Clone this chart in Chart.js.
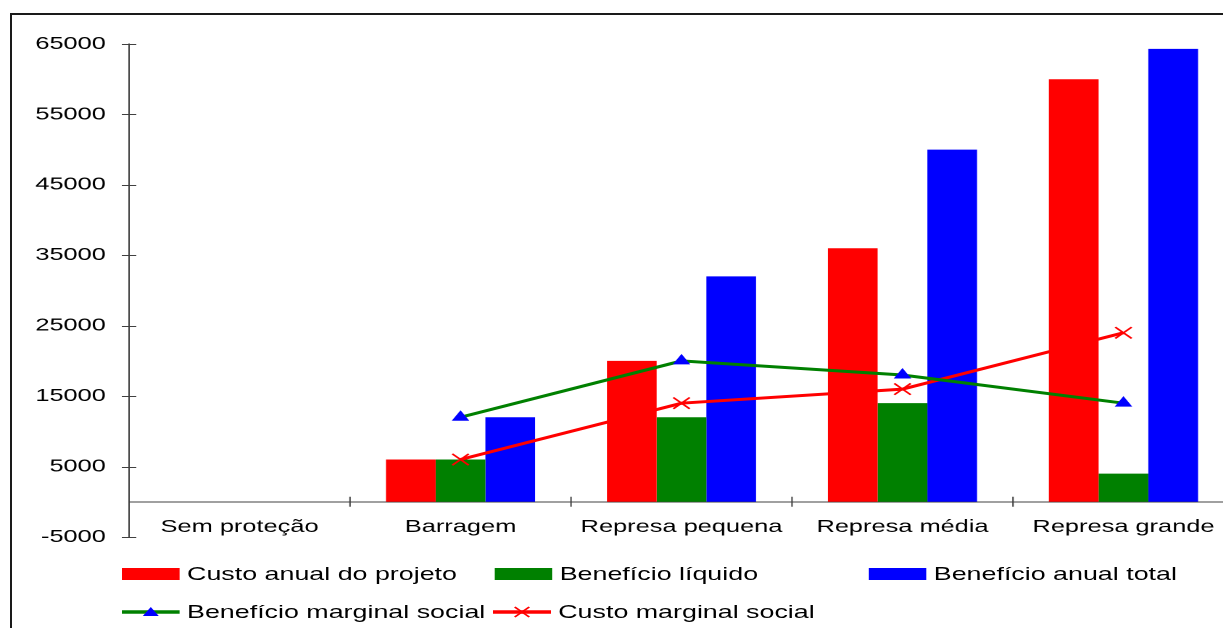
<!DOCTYPE html>
<html>
<head>
<meta charset="utf-8">
<script src="https://cdn.jsdelivr.net/npm/chart.js@4.4.1/dist/chart.umd.min.js"></script>
<style>
  html, body { margin: 0; padding: 0; background: #fff; overflow: hidden; }
  body { width: 1223px; height: 628px; position: relative; }
  #frame { position: absolute; left: 10px; top: 13px; width: 1300px; height: 700px;
           border: 2px solid #1a1a1a; box-sizing: border-box; }
  /* the original picture is stretched horizontally, so is this one */
  #wrap { position: absolute; left: 0; top: 0; width: 862px; height: 628px;
          transform: scaleX(1.45); transform-origin: 0 0; }
  #legend div { position: absolute; font-family: "Liberation Sans", Arial, sans-serif;
                font-size: 18.5px; line-height: 22px; color: #000; white-space: nowrap; }
</style>
</head>
<body>
<div id="frame"></div>
<div id="wrap">
  <canvas id="c"></canvas>
  <div id="legend"></div>
</div>
<script>
const categories = ['Sem proteção', 'Barragem', 'Represa pequena', 'Represa média', 'Represa grande'];
const custoAnual = [0, 6000, 20000, 36000, 60000];
const beneficioLiquido = [0, 6000, 12000, 14000, 4000];
const beneficioTotal = [0, 12000, 32000, 50000, 64300];
const beneficioMarginal = [null, 12000, 20000, 18000, 14000];
const custoMarginal = [null, 6000, 14000, 16000, 24000];
const yTicks = [-5000, 5000, 15000, 25000, 35000, 45000, 55000, 65000];

const RED = '#ff0000', GREEN = '#008000', BLUE = '#0000ff', AXIS = '#404040';
const FONT = 'Liberation Sans';

// small tick marks that cross the axes, like the original
const crossTicks = {
  id: 'crossTicks',
  afterDraw(chart) {
    const { ctx, chartArea, scales: { x, y } } = chart;
    ctx.save();
    ctx.strokeStyle = AXIS;
    ctx.lineWidth = 1;
    ctx.beginPath();
    yTicks.forEach(v => {
      const py = Math.round(y.getPixelForValue(v)) + 0.5;
      ctx.moveTo(chartArea.left - 5, py);
      ctx.lineTo(chartArea.left + 5, py);
    });
    const y0 = y.getPixelForValue(0);
    for (let i = 1; i <= categories.length; i++) {
      const px = i < categories.length
        ? (x.getPixelForValue(i - 1) + x.getPixelForValue(i)) / 2
        : chartArea.right;
      ctx.moveTo(px, y0 - 5);
      ctx.lineTo(px, y0 + 5);
    }
    ctx.stroke();
    ctx.restore();
  }
};

const barOpts = { categoryPercentage: 0.675, barPercentage: 1, order: 1, borderWidth: 0 };

new Chart(document.getElementById('c'), {
  type: 'bar',
  data: {
    labels: categories,
    datasets: [
      { label: 'Custo anual do projeto', data: custoAnual, backgroundColor: RED, ...barOpts },
      { label: 'Benefício líquido', data: beneficioLiquido, backgroundColor: GREEN, ...barOpts },
      { label: 'Benefício anual total', data: beneficioTotal, backgroundColor: BLUE, ...barOpts },
      { type: 'line', label: 'Benefício marginal social', data: beneficioMarginal, order: 0,
        borderColor: GREEN, borderWidth: 3, tension: 0,
        pointStyle: 'triangle', pointRadius: 6, pointBackgroundColor: BLUE, pointBorderColor: BLUE, pointBorderWidth: 1 },
      { type: 'line', label: 'Custo marginal social', data: custoMarginal, order: 0,
        borderColor: RED, borderWidth: 3, tension: 0,
        pointStyle: 'crossRot', pointRadius: 8, pointBorderColor: RED, pointBackgroundColor: RED, pointBorderWidth: 1.5 }
    ]
  },
  options: {
    responsive: true,
    maintainAspectRatio: false,
    devicePixelRatio: 2,
    animation: false,
    layout: { padding: { left: 0, right: 11, top: 44, bottom: 91 } },
    plugins: { legend: { display: false }, tooltip: { enabled: false } },
    scales: {
      x: {
        position: { y: 0 },
        offset: true,
        grid: { display: false, drawTicks: false },
        border: { display: true, color: AXIS, width: 1 },
        ticks: { color: '#000', padding: 15, maxRotation: 0, autoSkip: false,
                 font: { family: FONT, size: 17.5 } }
      },
      y: {
        min: -5000,
        max: 65000,
        afterBuildTicks: s => { s.ticks = yTicks.map(v => ({ value: v })); },
        afterFit: s => { s.width = 89; },
        grid: { display: false, drawTicks: false },
        border: { display: true, color: AXIS, width: 1 },
        ticks: { color: '#000', padding: 16, font: { family: FONT, size: 17.5 },
                 callback: v => String(v) }
      }
    }
  },
  plugins: [crossTicks]
});

// legend laid out in fixed columns, as in the original
const legendItems = [
  { label: 'Custo anual do projeto', kind: 'box', color: RED, left: 84, top: 574 },
  { label: 'Benefício líquido', kind: 'box', color: GREEN, left: 341, top: 574 },
  { label: 'Benefício anual total', kind: 'box', color: BLUE, left: 599, top: 574 },
  { label: 'Benefício marginal social', kind: 'tri', color: GREEN, left: 84, top: 612 },
  { label: 'Custo marginal social', kind: 'cross', color: RED, left: 340, top: 612 }
];
const legend = document.getElementById('legend');
legendItems.forEach(it => {
  const sw = document.createElement('div');
  let svg = '';
  if (it.kind === 'box') {
    svg = `<rect x="0" y="1" width="40" height="12" fill="${it.color}"/>`;
  } else if (it.kind === 'tri') {
    svg = `<line x1="0" y1="7" x2="40" y2="7" stroke="${it.color}" stroke-width="3.5"/>` +
          `<polygon points="20,2 25.5,11 14.5,11" fill="${BLUE}"/>`;
  } else {
    svg = `<line x1="0" y1="7" x2="40" y2="7" stroke="${it.color}" stroke-width="3.5"/>` +
          `<line x1="15" y1="2" x2="25" y2="12" stroke="${it.color}" stroke-width="1.5"/>` +
          `<line x1="25" y1="2" x2="15" y2="12" stroke="${it.color}" stroke-width="1.5"/>`;
  }
  sw.innerHTML = `<svg width="40" height="14" viewBox="0 0 40 14">${svg}</svg>`;
  sw.style.left = it.left + 'px';
  sw.style.top = (it.top - 7) + 'px';
  sw.style.lineHeight = '0';
  legend.appendChild(sw);
  const tx = document.createElement('div');
  tx.textContent = it.label;
  tx.style.left = (it.left + 45) + 'px';
  tx.style.top = (it.top - 11) + 'px';
  legend.appendChild(tx);
});
</script>
</body>
</html>
